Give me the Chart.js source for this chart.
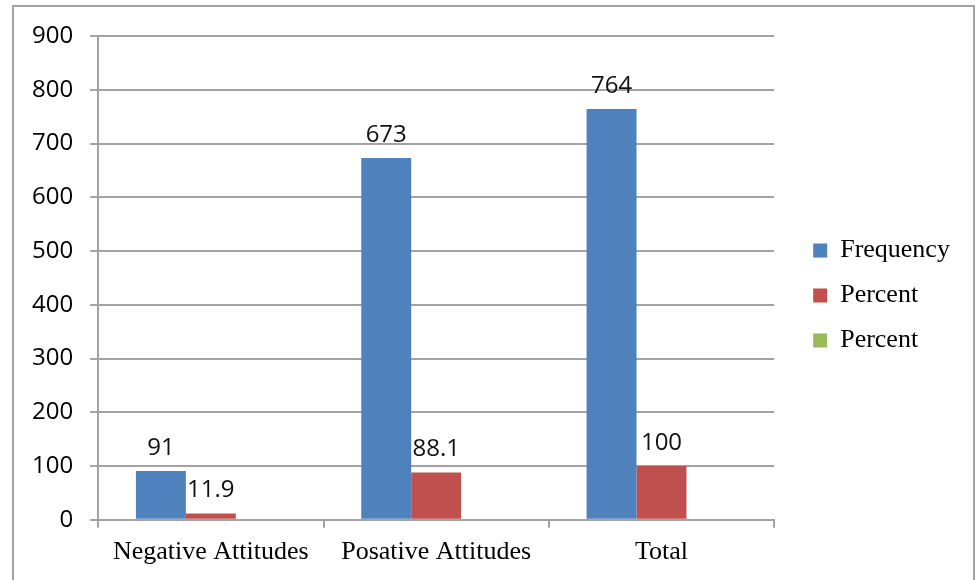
<!DOCTYPE html>
<html>
<head>
<meta charset="utf-8">
<script src="https://cdn.jsdelivr.net/npm/chart.js@4.4.1/dist/chart.umd.min.js"></script>
<style>
  body { margin: 0; background: #fff; }
  #wrap { position: relative; width: 976px; height: 580px; overflow: hidden; }
  #frame { position: absolute; left: 12px; top: 5px; width: 959px; height: 620px; border: 2px solid #a3a3a3; }
  canvas { position: absolute; left: 0; top: 0; }
</style>
</head>
<body>
<div id="wrap">
  <div id="frame"></div>
  <canvas id="chart" width="976" height="580"></canvas>
</div>
<script>
// Chart data
const categories = ['Negative Attitudes', 'Posative Attitudes', 'Total'];
const frequency = [91, 673, 764];
const percent = [11.9, 88.1, 100];
const percent2 = [null, null, null];   // third series is empty in the source chart
const yTicks = [0, 100, 200, 300, 400, 500, 600, 700, 800, 900];

const gridColor = '#a3a3a3';
const serif = '"Liberation Serif", "Times New Roman", serif';
const sans = '"Open Sans", sans-serif';

// Value labels above bars
const valueLabels = {
    id: 'valueLabels',
    afterDatasetsDraw(chart) {
        const ctx = chart.ctx;
        ctx.save();
        ctx.font = '24px ' + sans;
        ctx.fillStyle = '#111';
        ctx.textAlign = 'center';
        ctx.textBaseline = 'bottom';
        chart.data.datasets.forEach((ds, i) => {
            if (!ds.showLabels) return;
            chart.getDatasetMeta(i).data.forEach((bar, j) => {
                const v = ds.data[j];
                if (v === null) return;
                ctx.fillText(String(v), bar.x, bar.y - 11);
            });
        });
        ctx.restore();
    }
};

const ctx = document.getElementById('chart').getContext('2d');
const chart = new Chart(ctx, {
    type: 'bar',
    data: {
        labels: categories,
        datasets: [
            { label: 'Frequency', data: frequency, backgroundColor: '#4f81bd', showLabels: true },
            { label: 'Percent', data: percent, backgroundColor: '#c0504d', showLabels: true },
            { label: 'Percent', data: percent2, backgroundColor: '#9bbb59', showLabels: false }
        ]
    },
    options: {
        responsive: false,
        animation: false,
        devicePixelRatio: 1,
        layout: { padding: { left: 15, top: 36, right: 26, bottom: 3 } },
        datasets: { bar: { categoryPercentage: 0.665, barPercentage: 1.0, borderWidth: 0 } },
        plugins: {
            tooltip: { enabled: false },
            legend: {
                position: 'right',
                align: 'center',
                fullSize: false,
                title: { display: true, text: '', font: { size: 10 }, padding: { top: 23, bottom: 0 } },
                labels: {
                    boxWidth: 14,
                    boxHeight: 14,
                    padding: 19,
                    color: '#000',
                    font: { family: serif, size: 26 }
                }
            }
        },
        scales: {
            x: {
                grid: { offset: true, drawOnChartArea: false, drawTicks: true, tickLength: 8, color: gridColor, lineWidth: 2 },
                border: { color: gridColor, width: 2 },
                ticks: { padding: 9, color: '#000', font: { family: serif, size: 26 } }
            },
            y: {
                min: 0,
                max: 900,
                afterBuildTicks(scale) { scale.ticks = yTicks.map(v => ({ value: v })); },
                grid: { color: gridColor, lineWidth: 2, tickLength: 8 },
                border: { color: gridColor, width: 2 },
                ticks: { padding: 17, color: '#000', font: { family: sans, size: 24 } }
            },
            // empty spacer between plot area and legend
            gap: {
                type: 'linear',
                position: 'right',
                grid: { display: false },
                border: { display: false },
                ticks: { display: false },
                afterFit(scale) { scale.width = 20; }
            }
        }
    },
    plugins: [valueLabels]
});
</script>
</body>
</html>
